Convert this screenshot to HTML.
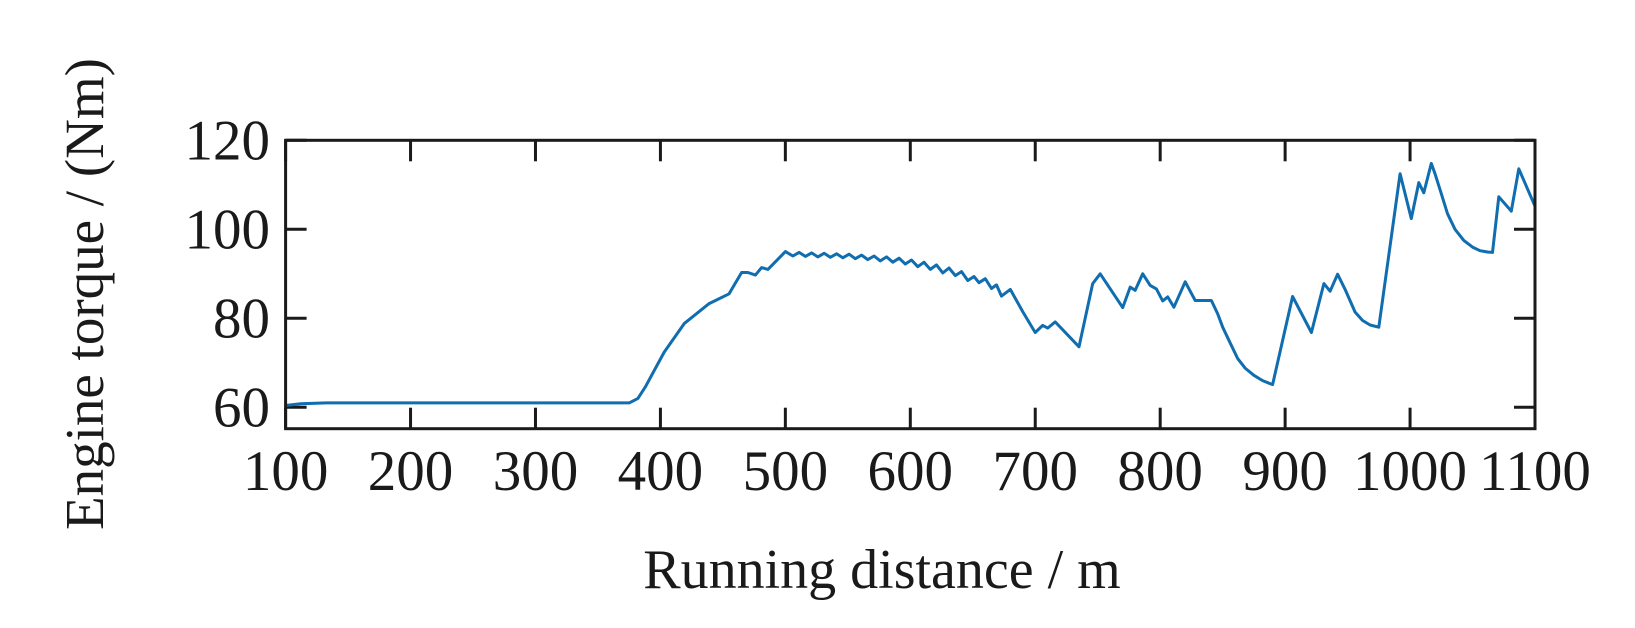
<!DOCTYPE html>
<html><head><meta charset="utf-8"><style>
html,body{margin:0;padding:0;background:#fff;}
svg{display:block;}
text{font-family:"Liberation Serif",serif;fill:#1a1a1a;}
</style></head><body>
<svg id="chart" width="1635" height="628" viewBox="0 0 1635 628" xmlns="http://www.w3.org/2000/svg">
<g id="grid"></g>
<path id="line" fill="none" stroke="#0f6db0" stroke-width="3" stroke-linejoin="round"/>
<rect x="285.6" y="140.3" width="1249.4" height="288.4" fill="none" stroke="#1a1a1a" stroke-width="3"/>
<text x="882" y="588" font-size="56" text-anchor="middle">Running distance / m</text>
<text x="0" y="0" font-size="55" text-anchor="middle" transform="translate(103,294) rotate(-90)">Engine torque / (Nm)</text>
</svg>
<script>
const xTicks=[100,200,300,400,500,600,700,800,900,1000,1100];
const yTicks=[60,80,100,120];
const distance=[100,112,133,375,382,388,403,419,439,455,465,470,476,481,486,500,
506,511,516,521,526,531,536,541,546,551,556,561,566,571,576,581,586,591,596,601,606,611,616,621,626,631,636,641,646,651,655,660,665,669,673,680,
690,700,706,710,716,735,746,752,770,776,780,786,792,797,802,806,811,820,828,841,846,850,856,862,868,875,882,890,906,921,931,936,942,948,956,962,968,975,992,1001,1007,1011,1017,1020,1025,1030,1036,1043,1050,1056,1062,1066,1071,1081,1087,1100];
const torque=[60.4,60.8,61.0,61.0,62.0,64.6,72.4,78.8,83.3,85.5,90.3,90.3,89.7,91.4,91.0,95.0,
94.0,94.8,93.9,94.7,93.8,94.6,93.7,94.5,93.6,94.4,93.4,94.2,93.2,94.0,92.9,93.8,92.6,93.5,92.2,93.1,91.6,92.6,91.0,92.0,90.2,91.3,89.6,90.5,88.5,89.4,88.0,88.9,86.7,87.5,85.0,86.5,
81.5,76.8,78.4,77.8,79.2,73.6,87.8,90.0,82.4,87.0,86.3,90.0,87.4,86.6,83.9,84.8,82.5,88.2,84.0,84.0,81.0,78.0,74.5,71.0,68.8,67.2,66.0,65.1,84.9,76.8,87.8,86.1,89.9,86.5,81.4,79.5,78.5,78.0,112.5,102.4,110.5,108.2,114.8,112.5,108.0,103.5,100.0,97.5,96.0,95.2,94.9,94.8,107.3,104.1,113.6,105.2];
const X0=285.6,X1=1535,Y0=428.7,Y1=140.3;
const xs=v=>X0+(v-100)/1000*(X1-X0);
const ys=v=>Y1+(120-v)*4.45;
const NS='http://www.w3.org/2000/svg';
const g=document.getElementById('grid');
function mk(t,a){const e=document.createElementNS(NS,t);for(const k in a)e.setAttribute(k,a[k]);return e;}
xTicks.forEach(v=>{
  const x=xs(v);
  const t1=mk('line',{x1:x,x2:x,y1:Y1,y2:Y1+21,stroke:'#1a1a1a','stroke-width':3});
  
  
  g.appendChild(t1);
  const t2=mk('line',{x1:x,x2:x,y1:Y0,y2:Y0-21,stroke:'#1a1a1a','stroke-width':3});
  
  
  g.appendChild(t2);
  const l=mk('text',{x:x,y:490,'font-size':57,'text-anchor':'middle'});
  l.textContent=v;
  
  
  g.appendChild(l);
});
yTicks.forEach(v=>{
  const y=ys(v);
  const t1=mk('line',{x1:X0,x2:X0+21,y1:y,y2:y,stroke:'#1a1a1a','stroke-width':3});
  
  
  g.appendChild(t1);
  const t2=mk('line',{x1:X1,x2:X1-21,y1:y,y2:y,stroke:'#1a1a1a','stroke-width':3});
  
  
  g.appendChild(t2);
  const l=mk('text',{x:270,y:y+19,'font-size':57,'text-anchor':'end'});
  l.textContent=v;
  
  
  g.appendChild(l);
});
let d='';
distance.forEach((v,i)=>{d+=(i?'L':'M')+xs(v).toFixed(1)+','+ys(torque[i]).toFixed(1);});
document.getElementById('line').setAttribute('d',d);
</script>
</body></html>
